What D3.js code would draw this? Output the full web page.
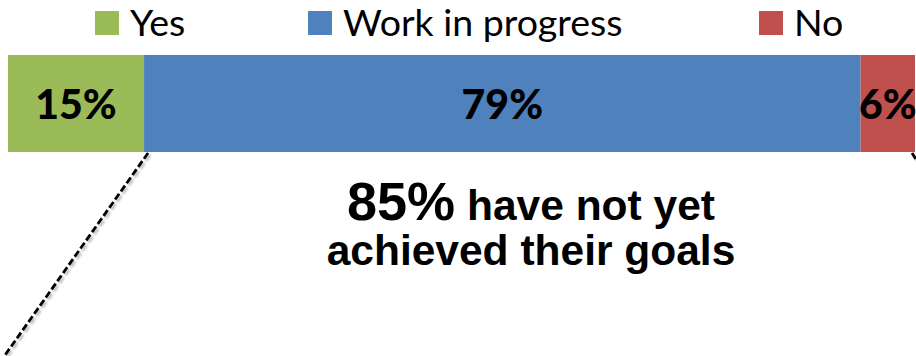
<!DOCTYPE html>
<html>
<head>
<meta charset="utf-8">
<script src="https://cdn.jsdelivr.net/npm/d3@7"></script>
<style>
  html, body { margin: 0; padding: 0; background: #fff; }
  svg { display: block; }
</style>
</head>
<body>
<svg id="chart" width="916" height="356"></svg>
<script>
// Survey answers: share of respondents (%) per answer, one stacked bar
const categories = ["Yes", "Work in progress", "No"];
const shares = [15, 79, 6];
const colors = ["#9BBB59", "#4F81BD", "#C0504D"];
const notYetShare = shares[1] + shares[2];

const W = 916, H = 356;
const svg = d3.select("#chart");

const x = d3.scaleLinear().domain([0, 100]).range([8, 915]);
const barTop = 55, barH = 97;

// cumulative starts for the stacked segments
const stacked = d3.stack().keys(categories)([
  Object.fromEntries(categories.map((c, i) => [c, shares[i]]))
]);

const segs = stacked.map((s, i) => ({
  key: s.key, v: shares[i], x0: s[0][0], x1: s[0][1], color: colors[i]
}));

svg.append("g").selectAll("rect").data(segs).join("rect")
  .attr("x", d => x(d.x0))
  .attr("y", barTop)
  .attr("width", d => x(d.x1) - x(d.x0))
  .attr("height", barH)
  .attr("fill", d => d.color);

svg.append("g").selectAll("text").data(segs).join("text")
  .attr("x", d => (x(d.x0) + x(d.x1)) / 2)
  .attr("y", barTop + 64)
  .attr("text-anchor", "middle")
  .attr("font-family", "Lato, 'Open Sans', sans-serif")
  .attr("font-weight", 900)
  .attr("font-size", 41)
  .attr("fill", "#000")
  .text(d => d.v + "%");

// legend
const legendX = [95, 308, 759];
const legend = svg.append("g").selectAll("g").data(segs).join("g")
  .attr("transform", (d, i) => `translate(${legendX[i]},11)`);
legend.append("rect").attr("width", 24).attr("height", 24).attr("fill", d => d.color);
legend.append("text")
  .attr("x", 35).attr("y", 25)
  .attr("font-family", "Lato, 'Open Sans', sans-serif")
  .attr("font-size", 37.5)
  .attr("fill", "#000")
  .text(d => d.key);

// dashed leader lines from the bar edges
const defs = svg.append("defs");
defs.append("filter").attr("id", "soft")
  .append("feGaussianBlur").attr("stdDeviation", 1.2);

const leaders = [
  [[x(shares[0]) + 4, barTop + barH + 1], [3, 358]],
  [[x(100) - 3, barTop + barH + 1], [968, 240]]
];
leaders.forEach(([a, b]) => {
  svg.append("line")
    .attr("x1", a[0] + 2).attr("y1", a[1] + 2)
    .attr("x2", b[0] + 2).attr("y2", b[1] + 2)
    .attr("stroke", "#bbb").attr("stroke-width", 3)
    .attr("stroke-dasharray", "7,3")
    .attr("filter", "url(#soft)");
  svg.append("line")
    .attr("x1", a[0]).attr("y1", a[1])
    .attr("x2", b[0]).attr("y2", b[1])
    .attr("stroke", "#000").attr("stroke-width", 2.8)
    .attr("stroke-dasharray", "7,3");
});

// callout text
const callout = svg.append("text")
  .attr("text-anchor", "middle")
  .attr("font-family", "'Liberation Sans', Arial, sans-serif")
  .attr("font-weight", "bold")
  .attr("fill", "#000");
const line1 = callout.append("tspan").attr("x", 531).attr("y", 220);
line1.append("tspan").attr("font-size", 54).text(notYetShare + "%");
line1.append("tspan").attr("font-size", 42.5).text(" have not yet");
callout.append("tspan").attr("x", 531).attr("y", 265)
  .attr("font-size", 42.5).text("achieved their goals");
</script>
</body>
</html>
